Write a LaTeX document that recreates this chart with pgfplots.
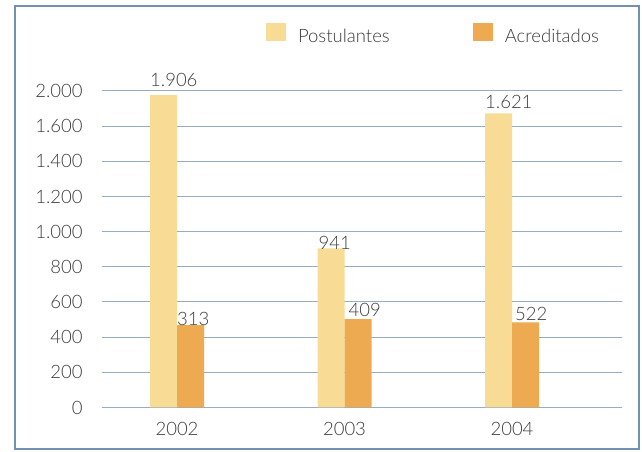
\documentclass[border=0pt]{standalone}
\usepackage{pgfplots}
\pgfplotsset{compat=1.18}
\usepackage{fontspec}
\setmainfont{Lato}[UprightFont=* Light]
\definecolor{post}{RGB}{248,220,150}
\definecolor{acre}{RGB}{238,170,80}
\definecolor{gridc}{RGB}{150,172,192}
\definecolor{framec}{RGB}{115,145,175}
\definecolor{txt}{RGB}{60,60,60}
\begin{document}
\fontsize{18.5}{21}\selectfont
\begin{tikzpicture}
\begin{axis}[
  scale only axis, width=520pt, height=316.5pt,
  xmin=-0.4496, xmax=2.655, ymin=0, ymax=1800,
  axis line style={draw=none},
  major tick length=0pt,
  /pgf/number format/assume math mode=true,
  ybar=0pt, bar width=27pt,
  xtick={0,1,2}, xticklabels={2002,2003,2004},
  ytick={0,200,400,600,800,1000,1200,1400,1600,1800},
  yticklabels={0,200,400,600,800,1.000,1.200,1.400,1.600,2.000},
  ymajorgrids, grid style={gridc, line width=1pt},
  yticklabel style={anchor=east, inner sep=0pt, xshift=-19pt, text=txt},
  xticklabel style={anchor=north, inner sep=0pt, yshift=-15pt, text=txt},
  clip=false,
  point meta=explicit symbolic,
  nodes near coords,
  visualization depends on={\thisrow{dx} \as \labdx},
  visualization depends on={\thisrow{dy} \as \labdy},
  every node near coord/.append style={anchor=base west, inner sep=0pt, text=txt,
     xshift=-13.5pt+\labdx pt, yshift=\labdy pt},
  legend style={draw=none, fill=none, at={(axis description cs:0.316,1.1453)}, anchor=south west,
     inner sep=0pt, outer sep=0pt, nodes={inner sep=0pt, text=txt},
     /tikz/every odd column/.append style={column sep=12pt},
     /tikz/every even column/.append style={column sep=83pt}},
  legend columns=2,
  legend image code/.code={\fill[#1] (0pt,-4.5pt) rectangle (20pt,13.5pt);},
]
\addplot[fill=post, draw=none] table[meta=label] {
x y label dx dy
0 1777 1.906 0 8.3
1 905 941 1 -1
2 1673 1.621 0 5
};
\addplot[fill=acre, draw=none] table[meta=label] {
x y label dx dy
0 469 313 0 0
1 503 409 4 2.3
2 484 522 3 2.3
};
\legend{Postulantes,Acreditados}
\coordinate (fbl) at (axis description cs:-0.1667,-0.1311);
\coordinate (ftr) at (axis description cs:1.0333,1.2686);
\coordinate (bbl) at (axis description cs:-0.1956,-0.1406);
\coordinate (btr) at (axis description cs:1.0390,1.2875);
\end{axis}
\draw[framec, line width=1.2pt] (fbl) rectangle (ftr);
\pgfresetboundingbox
\useasboundingbox (bbl) rectangle (btr);
\end{tikzpicture}
\end{document}
